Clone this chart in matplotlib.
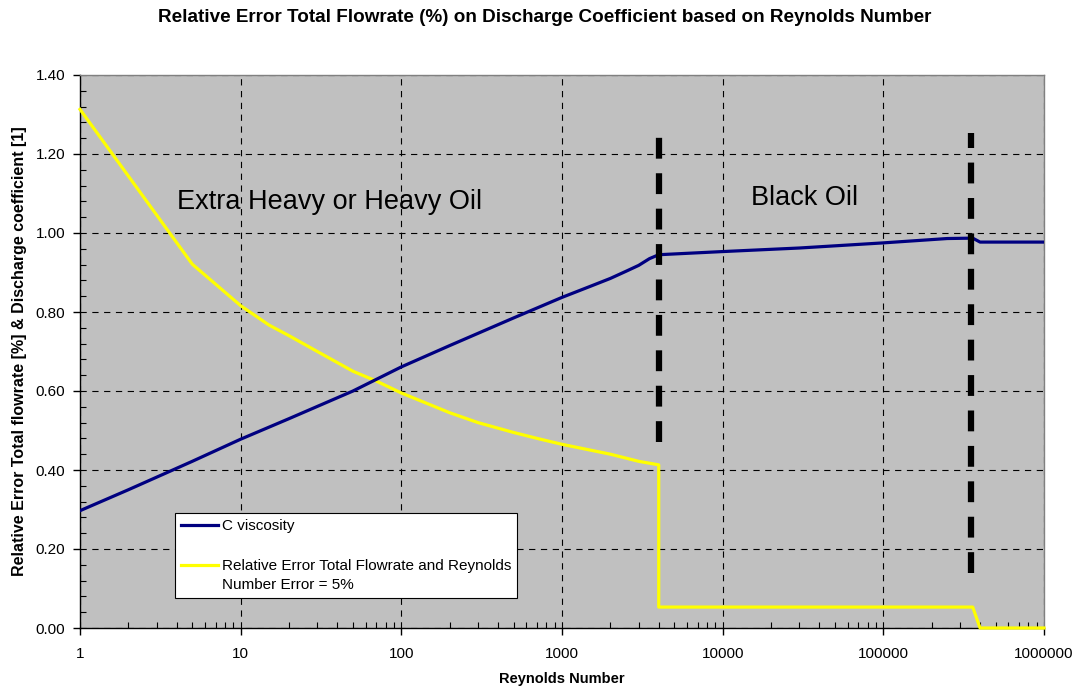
import matplotlib
matplotlib.use("Agg")
import matplotlib.pyplot as plt
from matplotlib.ticker import LogLocator, MultipleLocator, FixedLocator, NullFormatter

plt.rcParams['font.family'] = ['Liberation Sans', 'DejaVu Sans']
plt.rcParams['lines.scale_dashes'] = False

# Discharge coefficient (viscosity corrected) vs Reynolds number
re_cvisc = [1, 2, 5, 10, 20, 50, 100, 200, 500, 1000, 1500, 2000, 2500, 3000,
            3500, 4000, 10000, 30000, 100000, 250000, 360000, 400000, 1000000]
c_visc = [0.297, 0.350, 0.422, 0.478, 0.530, 0.600, 0.661, 0.715, 0.785, 0.837,
          0.865, 0.885, 0.903, 0.918, 0.935, 0.945, 0.953, 0.962, 0.975, 0.986,
          0.987, 0.977, 0.977]

# Relative error of total flowrate with 5 % Reynolds number error
re_err = [1, 5, 10, 15, 20, 30, 50, 70, 100, 200, 300, 500, 700, 1000, 2000,
          3000, 4000, 4000, 360000, 400000, 1000000]
rel_err = [1.313, 0.921, 0.816, 0.767, 0.740, 0.700, 0.650, 0.625, 0.595, 0.545,
           0.520, 0.495, 0.480, 0.465, 0.440, 0.422, 0.413, 0.053, 0.053, 0.0, 0.0]

# regime boundaries (Reynolds number, bottom, top of marker line)
regime_re = [4000, 350000]
regime_lo = [0.47, 0.14]
regime_hi = [1.245, 1.253]

xticks = [1, 10, 100, 1000, 10000, 100000, 1000000]
xtick_labels = ['1', '10', '100', '1000', '10000', '100000', '1000000']

fig = plt.figure(figsize=(10.78, 6.89), dpi=100)
ax = fig.add_axes([80 / 1078, 61 / 689, 964 / 1078, 553 / 689])
ax.set_facecolor('#C0C0C0')

ax.plot(re_cvisc, c_visc, color='#000080', lw=2.3, label='C viscosity', zorder=4)
ax.plot(re_err, rel_err, color='#FFFF00', lw=2.3, clip_on=False,
        label='Relative Error Total Flowrate and Reynolds\nNumber Error = 5%', zorder=3)

for r, lo, hi in zip(regime_re, regime_lo, regime_hi):
    ax.plot([r, r], [lo, hi], color='black', lw=4.5, linestyle=(0, (15, 10.5)),
            solid_capstyle='butt', dash_capstyle='butt', zorder=5)

ax.set_xscale('log')
ax.set_xlim(1, 1000000)
ax.set_ylim(0, 1.4)
ax.xaxis.set_major_locator(FixedLocator(xticks))
ax.set_xticklabels(xtick_labels)
ax.xaxis.set_minor_locator(LogLocator(base=10, subs=range(2, 10), numticks=20))
ax.xaxis.set_minor_formatter(NullFormatter())
ax.yaxis.set_major_locator(MultipleLocator(0.2))
ax.yaxis.set_minor_locator(MultipleLocator(0.04))
ax.yaxis.set_major_formatter(plt.FuncFormatter(lambda v, p: f'{v:.2f}'))

ax.tick_params(which='major', direction='out', length=5, width=1, labelsize=11)
ax.tick_params(which='minor', direction='in', length=4, width=0.8)
ax.tick_params(axis='y', which='major', pad=5.5)
ax.tick_params(axis='x', which='major', pad=8.5)

ax.grid(True, which='major', color='black', lw=0.8, linestyle=(0, (4.5, 4)))
ax.set_axisbelow(True)

for side in ('top', 'right'):
    ax.spines[side].set_color('#808080')
    ax.spines[side].set_linewidth(1)
for side in ('left', 'bottom'):
    ax.spines[side].set_color('black')
    ax.spines[side].set_linewidth(1)

ax.text(4.02, 1.061, 'Extra Heavy or Heavy Oil', fontsize=19.5, va='baseline', ha='left')
ax.text(15000, 1.071, 'Black Oil', fontsize=19.5, va='baseline', ha='left')

ax.set_xlabel('Reynolds Number', fontsize=10.5, fontweight='bold')
ax.xaxis.set_label_coords(0.5, -0.08)
ax.set_ylabel('Relative Error Total flowrate [%] & Discharge coefficient [1]',
              fontsize=11.5, fontweight='bold')
ax.yaxis.set_label_coords(-0.055, 0.5)

fig.text(545 / 1078, 1 - 18 / 689,
         'Relative Error Total Flowrate (%) on Discharge Coefficient based on Reynolds Number',
         fontsize=13.6, fontweight='bold', ha='center', va='center')

leg = ax.legend(loc='lower left', bbox_to_anchor=(0.0985, 0.054), fontsize=11,
                frameon=True, fancybox=False, framealpha=1, edgecolor='black',
                handlelength=2.4, handletextpad=0.25, borderpad=0.4,
                labelspacing=1.7, borderaxespad=0)
leg.get_frame().set_linewidth(0.8)
for t in leg.get_texts():
    t.set_linespacing(1.45)
# put the two-line entry's handle level with its first text line
yl = leg.get_lines()[1]
yl.set_ydata([v + 7.5 for v in yl.get_ydata()])

fig.savefig('out.png', dpi=100)
